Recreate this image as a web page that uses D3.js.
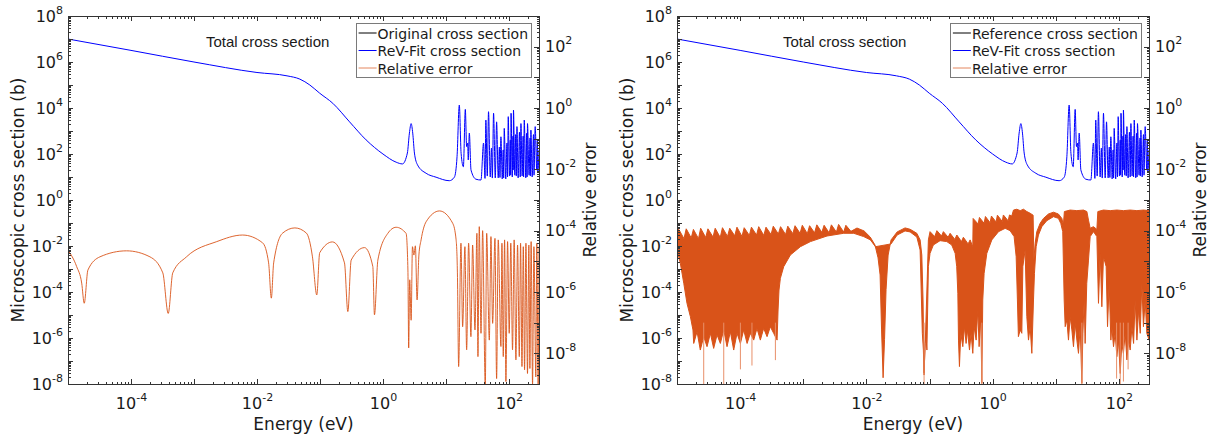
<!DOCTYPE html>
<html>
<head>
<meta charset="utf-8">
<script src="https://cdn.jsdelivr.net/npm/d3@7"></script>
<style>
  body { margin: 0; background: #fff; }
  svg { display: block; }
  text { font-family: "DejaVu Sans", sans-serif; fill: #1a1a1a; }
</style>
</head>
<body>
<script>
// tick labels
var energyTicks = [1e-4, 1e-2, 1, 1e2];
var sigmaTicks = [1e-8, 1e-6, 1e-4, 1e-2, 1, 1e2, 1e4, 1e6, 1e8];
var errorTicks = [1e-8, 1e-6, 1e-4, 1e-2, 1, 1e2];
var legendLeft = ["Original cross section", "ReV-Fit cross section", "Relative error"];
var legendRight = ["Reference cross section", "ReV-Fit cross section", "Relative error"];

// total cross section [energy eV, barns] (same in both panels)
var fitXS = [
  [1e-5, 1.0e7], [1e-4, 3.2e6], [1e-3, 1.0e6], [1e-2, 3.5e5], [3.0e-2, 2.5e5], [4.8e-2, 1.8e5],
  [6.9e-2, 1.0e5], [9.9e-2, 4.4e4], [0.16, 1.6e4], [0.295, 2.5e3], [0.54, 410], [1.0, 100],
  [1.62, 44], [2.04, 37], [2.44, 110], [2.63, 810], [2.80, 2100], [2.97, 810], [3.16, 110],
  [3.55, 33], [4.84, 14.5], [6.97, 9.8], [11.3, 6.9], [13.6, 9.8], [15.0, 76], [16.3, 1.35e4],
  [17.4, 107], [18.9, 28], [20.3, 8.7e3], [21.3, 210], [22.1, 300], [22.6, 55], [23.5, 810],
  [25.0, 20], [30.0, 8], [36, 7.4], [39.5, 300], [41.7, 8.7], [43, 3000], [45.3, 11],
  [47.4, 6900], [50.5, 10], [52.8, 180], [54.5, 9], [57, 5900], [60.7, 9.1], [63.7, 2500],
  [67.6, 9.1], [70.5, 200], [72, 9.5], [74.6, 560], [78.3, 8.2], [81, 150], [82.5, 9],
  [84.2, 1300], [89, 8.2], [93, 300], [95, 10], [97.5, 4200], [102, 11], [105, 400], [106.5, 12],
  [108, 5900], [113, 10], [116, 600], [117, 20], [118, 8100], [124, 12], [128, 700], [131, 11],
  [134, 1550], [140, 9.1], [147, 900], [151, 10], [155, 2100], [162, 11], [168, 600], [171, 10],
  [175, 3000], [185, 9.1], [191, 800], [194, 10], [197, 2100], [209, 12], [216, 500], [219, 11],
  [223, 1100], [234, 10], [245, 700], [250, 12], [261, 1550], [276, 20], [283, 400], [287, 15],
  [300, 150]
];

// relative error, left panel [energy, error]
var errLeft = [
  [1e-5, 2.3e-5], [1.37e-5, 6.8e-6], [1.65e-5, 1.95e-6], [1.81e-5, 4.3e-7], [2.07e-5, 5.2e-6],
  [3.21e-5, 1.4e-5], [8.5e-5, 2.2e-5], [2.0e-4, 1.4e-5], [3.2e-4, 4.2e-6], [3.9e-4, 2.0e-7],
  [4.6e-4, 4.2e-6], [7.6e-4, 1.4e-5], [2.3e-3, 4.4e-5], [5.9e-3, 7.2e-5], [1.23e-2, 4.0e-5],
  [1.53e-2, 8.9e-6], [1.69e-2, 6.3e-7], [1.84e-2, 8.9e-6], [2.55e-2, 8.3e-5], [4.0e-2, 1.23e-4],
  [6.1e-2, 8.3e-5], [7.6e-2, 1.4e-5], [8.9e-2, 8.0e-7], [9.9e-2, 1.9e-5], [0.158, 4.3e-5],
  [0.245, 8.9e-6], [0.277, 2.3e-7], [0.313, 1.1e-5], [0.51, 2.8e-5], [0.69, 6.8e-6],
  [0.733, 1.8e-7], [0.83, 1.1e-5], [1.19, 8.1e-5], [1.62, 1.29e-4], [2.33, 8.1e-5],
  [2.49, 5.2e-6], [2.56, 1.5e-8], [2.66, 2.5e-6], [2.80, 1.2e-7], [2.94, 3.0e-5], [3.10, 1.6e-5],
  [3.27, 3.2e-5], [3.48, 5.5e-7], [3.72, 1.6e-5], [4.03, 5.0e-5], [4.84, 1.95e-4], [7.9, 4.4e-4],
  [12.8, 1.74e-4], [14.5, 5.0e-5], [15.2, 4.2e-6], [15.9, 3.7e-9],
  [17.3, 3.9e-5], [18.4, 7.4e-8], [20.0, 3.0e-5], [21.3, 1.3e-8], [22.9, 3.9e-5], [24.9, 3.5e-8],
  [26.5, 3.4e-5], [28.9, 5.8e-8], [31.0, 8.2e-5], [32.2, 7.8e-9], [33.8, 1.35e-4], [36.0, 4.5e-8],
  [38.2, 1.0e-4], [42.1, 8e-10], [44.3, 8.2e-5], [48.8, 2.7e-8], [51.8, 6.4e-5], [55.1, 9.5e-8],
  [60.0, 5.6e-5], [63.7, 1.5e-9], [67.6, 5.0e-5], [74.6, 1.67e-8], [77.4, 3.9e-5], [81.3, 7.8e-9],
  [85.3, 5.0e-5], [89.5, 1.2e-9], [95.1, 4.4e-5], [101, 4.5e-8], [107, 3.9e-5], [114, 1.3e-8],
  [121, 5.0e-5], [129, 6.1e-9], [137, 3.4e-5], [146, 7.8e-9], [153, 3.9e-5], [161, 3.7e-9],
  [169, 3.0e-5], [177, 2.9e-9], [186, 3.9e-5], [197, 2.2e-9], [207, 3.4e-5], [215, 3.2e-9],
  [225, 4.4e-5], [237, 1.0e-9], [249, 3.0e-5], [267, 1.7e-9], [277, 3.9e-5], [291, 8e-10],
  [300, 3.0e-5]
];

// relative error, right panel: upper edge of the dense band
var errRightUpper = [
  [1.0e-5, 1.0e-4],
  [1.07e-5, 1.1e-4], [1.29e-5, 5.5e-5], [1.40e-5, 1.15e-4], [1.68e-5, 5.8e-5],
  [1.82e-5, 1.1e-4], [2.19e-5, 5.5e-5], [2.37e-5, 1.2e-4], [2.85e-5, 6.0e-5],
  [3.09e-5, 1.15e-4], [3.72e-5, 6.2e-5], [4.03e-5, 1.2e-4], [4.84e-5, 6.0e-5],
  [5.25e-5, 1.25e-4], [6.31e-5, 6.5e-5], [6.84e-5, 1.2e-4], [8.22e-5, 6.8e-5],
  [8.91e-5, 1.3e-4], [1.07e-4, 6.5e-5], [1.16e-4, 1.25e-4], [1.40e-4, 7.0e-5],
  [1.51e-4, 1.3e-4], [1.82e-4, 7.2e-5], [1.97e-4, 1.35e-4], [2.37e-4, 7.0e-5],
  [2.57e-4, 1.3e-4], [3.09e-4, 7.5e-5], [3.35e-4, 1.4e-4], [4.03e-4, 7.8e-5],
  [4.37e-4, 1.35e-4], [5.25e-4, 7.5e-5], [5.69e-4, 1.4e-4], [6.84e-4, 8.0e-5],
  [7.41e-4, 1.45e-4], [8.91e-4, 8.2e-5], [9.66e-4, 1.5e-4], [1.16e-3, 8.0e-5],
  [1.26e-3, 1.45e-4], [1.51e-3, 8.5e-5], [1.64e-3, 1.55e-4], [1.97e-3, 8.8e-5],
  [2.14e-3, 1.5e-4], [2.57e-3, 8.5e-5], [2.79e-3, 1.55e-4], [3.35e-3, 9.0e-5],
  [3.63e-3, 1.6e-4], [4.37e-3, 9.0e-5], [4.73e-3, 1.5e-4], [5.69e-3, 9.5e-5],
  [7.1e-3, 1.22e-4], [9.2e-3, 9.8e-5], [1.15e-2, 6.2e-5], [1.37e-2, 3.4e-5], [1.53e-2, 1.3e-5],
  [1.65e-2, 3.6e-6], [1.74e-2, 5.8e-8], [1.84e-2, 1.6e-9], [1.94e-2, 2.8e-8], [2.05e-2, 1.2e-6],
  [2.21e-2, 1.6e-5], [2.46e-2, 5.0e-5], [3.07e-2, 9.1e-5], [4.10e-2, 1.23e-4], [4.93e-2, 1.11e-4],
  [6.3e-2, 8.2e-5], [7.1e-2, 5.0e-5], [7.55e-2, 1.6e-5], [7.9e-2, 5.5e-7], [8.2e-2, 2.3e-9],
  [8.7e-2, 5.8e-8], [9.2e-2, 2.5e-6], [9.6e-2, 5.0e-5],
  [0.102, 9.3e-5], [0.121, 6.4e-5], [0.131, 1.0e-4], [0.155, 6.7e-5], [0.166, 9.3e-5],
  [0.197, 6.1e-5], [0.212, 8.2e-5], [0.252, 5.2e-5], [0.271, 7.2e-5], [0.321, 4.4e-5],
  [0.344, 6.1e-5], [0.409, 3.7e-5], [0.440, 5.0e-5], [0.485, 3.0e-5],
  [0.491, 2.5e-4], [0.589, 1.65e-4], [0.618, 2.7e-4], [0.733, 1.74e-4], [0.769, 2.9e-4],
  [0.912, 1.82e-4], [0.957, 3.0e-4], [1.135, 1.92e-4], [1.19, 3.2e-4], [1.42, 2.0e-4],
  [1.48, 3.25e-4], [1.76, 2.1e-4], [1.85, 3.25e-4],
  [2.01, 3.0e-4], [2.14, 4.7e-4], [2.42, 5.0e-4], [2.73, 4.5e-4], [3.08, 5.0e-4], [3.48, 4.2e-4],
  [3.93, 3.7e-4], [4.38, 3.2e-4],
  [4.50, 1.1e-5], [4.72, 3.9e-5], [5.01, 9.3e-5], [5.66, 1.74e-4], [6.38, 2.5e-4], [7.66, 3.5e-4],
  [9.2, 4.0e-4], [11.0, 3.5e-4], [12.5, 2.5e-4], [13.2, 1.53e-4],
  [13.7, 4.2e-4], [16.9, 4.7e-4], [21.6, 4.5e-4], [27.5, 4.7e-4], [31.1, 4.2e-4], [33.0, 2.2e-4],
  [35.1, 1.2e-4], [39.5, 1.35e-4], [44.8, 1.1e-4], [46.4, 4.2e-4], [57.0, 4.7e-4], [72.8, 4.5e-4],
  [92.9, 4.7e-4], [118, 4.5e-4], [151, 4.7e-4], [193, 4.5e-4], [245, 4.7e-4], [302, 4.5e-4]
];

// relative error, right panel: lower edge of the dense band
var errRightLower = [
  [1.0e-5, 2.34e-5], [1.13e-5, 8.6e-6], [1.28e-5, 1.92e-6], [1.44e-5, 4.27e-7], [1.63e-5, 1.57e-7],
  [1.79e-5, 5.8e-8], [1.84e-5, 2.1e-8], [2.08e-5, 5.1e-8], [2.34e-5, 1.28e-8], [2.65e-5, 3.5e-8],
  [2.99e-5, 1.65e-8], [3.38e-5, 4.5e-8], [3.81e-5, 1.45e-8], [4.31e-5, 4.0e-8], [4.86e-5, 2.1e-8],
  [5.50e-5, 5.8e-8], [6.20e-5, 1.65e-8], [7.00e-5, 5.1e-8], [7.91e-5, 1.28e-8], [8.93e-5, 4.5e-8],
  [1.01e-4, 2.1e-8], [1.14e-4, 5.8e-8], [1.29e-4, 2.1e-8], [1.45e-4, 4.5e-8], [1.64e-4, 2.7e-8],
  [1.85e-4, 6.5e-8], [2.09e-4, 2.7e-8], [2.36e-4, 6.5e-8], [2.67e-4, 3.5e-8], [3.01e-4, 7.4e-8],
  [3.40e-4, 4.5e-8], [3.85e-4, 2.7e-8],
  [3.99e-4, 2.59e-7], [4.13e-4, 1.16e-6], [4.34e-4, 2.79e-6], [4.90e-4, 6.7e-6], [6.25e-4, 1.61e-5],
  [9.0e-4, 3.0e-5], [1.30e-3, 4.4e-5], [2.38e-3, 6.7e-5], [4.38e-3, 8.2e-5], [6.31e-3, 8.2e-5],
  [9.08e-3, 6.4e-5], [1.16e-2, 5.0e-5], [1.39e-2, 3.0e-5],
  [2.46e-2, 3.7e-5], [3.07e-2, 7.2e-5], [4.10e-2, 9.8e-5], [4.93e-2, 9.1e-5], [6.3e-2, 6.2e-5],
  [7.1e-2, 2.34e-5],
  [7.7e-2, 4.5e-8], [8.0e-2, 1.28e-8], [8.2e-2, 1.96e-9], [8.5e-2, 2.1e-8], [8.8e-2, 3.5e-8],
  [9.1e-2, 1.28e-8], [9.4e-2, 5.5e-7], [9.6e-2, 6.7e-6], [0.102, 1.82e-5], [0.115, 3.41e-5],
  [0.147, 4.72e-5], [0.188, 4.4e-5], [0.225, 3.41e-5], [0.255, 1.82e-5], [0.270, 6.7e-6],
  [0.281, 9.1e-7],
  [0.288, 2.7e-8], [0.298, 3.7e-9], [0.313, 4.5e-8], [0.337, 1.65e-8], [0.358, 7.4e-8],
  [0.380, 2.1e-8], [0.399, 5.8e-8], [0.430, 1.28e-8], [0.456, 4.5e-8], [0.485, 1.0e-8],
  [0.509, 7.4e-8], [0.548, 2.7e-8], [0.582, 2.59e-7], [0.611, 1.65e-8], [0.650, 1.57e-7],
  [0.674, 1.05e-9], [0.698, 5.5e-7], [0.733, 4.06e-6], [0.809, 1.82e-5], [0.971, 5.0e-5],
  [1.24, 9.3e-5], [1.58, 1.19e-4], [1.89, 1.0e-4], [2.19, 6.4e-5], [2.36, 1.42e-5], [2.47, 5.5e-7],
  [2.56, 3.5e-8], [2.73, 5.8e-8], [2.90, 4.5e-8], [3.01, 6.7e-6], [3.27, 2.34e-5], [3.48, 1.57e-7],
  [3.70, 2.7e-8], [3.93, 7.4e-8], [4.18, 1.0e-8], [4.44, 5.5e-7], [4.60, 4.06e-6], [4.89, 3.0e-5],
  [5.32, 7.2e-5], [6.01, 1.35e-4], [7.21, 2.12e-4], [9.20, 2.86e-4], [11.0, 2.52e-4],
  [12.0, 1.73e-4], [12.9, 9.3e-5], [13.6, 5.5e-7],
  [14.1, 7.4e-8], [15.0, 1.22e-7], [15.9, 2.7e-8], [16.9, 1.57e-7], [18.0, 5.8e-8], [19.1, 1.65e-8],
  [20.3, 9.5e-8], [21.6, 2.7e-8], [22.9, 1.0e-8], [24.4, 7.4e-8], [25.9, 1.05e-9], [26.9, 4.5e-8],
  [28.2, 5.5e-7], [29.2, 2.1e-8], [31.0, 1.92e-6], [33.0, 1.1e-5], [35.1, 6.4e-5], [39.6, 9.3e-5],
  [44.8, 6.4e-5], [47.5, 4.27e-7], [50.6, 1.82e-5], [53.7, 3.3e-7], [57.0, 1.42e-5], [62.9, 6.7e-6],
  [66.1, 7.4e-8], [70.2, 1.92e-6], [74.6, 2.7e-8], [77.3, 7.4e-8], [82.2, 1.65e-8], [87.3, 4.5e-8],
  [92.9, 7.8e-9], [98.6, 2.7e-8], [105, 2.2e-9], [111, 2.1e-8], [118, 1.0e-8], [126, 4.5e-8],
  [134, 6.1e-9], [142, 2.7e-8], [151, 1.28e-8], [161, 7.4e-8], [171, 2.1e-8], [181, 5.5e-7],
  [193, 2.7e-8], [205, 2.59e-7], [218, 4.5e-8], [231, 1.92e-6], [245, 7.4e-8], [261, 5.5e-7],
  [277, 4.5e-8], [302, 2.7e-8]
];

// deepest single dips in the right panel [energy, lowest error]
var errRightSpikes = [
  [2.65e-5, 1.0e-9], [5.5e-5, 1.0e-9], [1.01e-4, 3.0e-9], [1.54e-4, 4.0e-9], [3.62e-4, 6.0e-9],
  [8.2e-2, 1.0e-9], [0.674, 1.0e-9], [25.9, 1.0e-9], [92, 1.5e-9], [105, 1.0e-9], [118, 1.2e-9],
  [140, 3.0e-9]
];

var width = 1218, height = 437,
  plotTop = 16, plotBottom = 384;

var orange = "#D95319", blue = "#0000ff";

var svg = d3.select("body").append("svg").attr("width", width).attr("height", height);

var panels = [
  { x0: 68, x1: 539, legend: legendLeft, titleX: 206, mode: "line" },
  { x0: 677, x1: 1149, legend: legendRight, titleX: 783, mode: "band" }
];

function logTicks(lo, hi) {
  var out = [];
  for (var e = lo; e <= hi; e++) {
    for (var k = 2; k < 10; k++) out.push(k * Math.pow(10, e));
  }
  return out;
}
function decades(lo, hi) {
  var out = [];
  for (var e = lo; e <= hi; e++) out.push(Math.pow(10, e));
  return out;
}

// replace tick text with 10 + superscript exponent
function powerLabels(sel) {
  sel.selectAll(".tick text").each(function (d) {
    var t = d3.select(this);
    var e = Math.round(Math.log10(d));
    t.text(null);
    t.append("tspan").text("10");
    t.append("tspan").attr("dy", "-8px").style("font-size", "11px").text(String(e));
  });
}

panels.forEach(function (p, i) {
  var x = d3.scaleLog().domain([1e-5, 300]).range([p.x0, p.x1]);
  var yL = d3.scaleLog().domain([1e-8, 1e8]).range([plotBottom, plotTop]);
  var yR = d3.scaleLog().domain([1e-9, 1e3]).range([plotBottom, plotTop]);

  var g = svg.append("g");
  g.append("clipPath").attr("id", "clip" + i)
    .append("rect").attr("x", p.x0).attr("y", plotTop)
    .attr("width", p.x1 - p.x0).attr("height", plotBottom - plotTop);
  var plot = g.append("g").attr("clip-path", "url(#clip" + i + ")");

  var errLine = d3.line().x(function (d) { return x(d[0]); }).y(function (d) { return yR(d[1]); });

  if (p.mode === "line") {
    plot.append("path").datum(errLeft)
      .attr("d", errLine.curve(d3.curveMonotoneX))
      .attr("fill", "none").attr("stroke", orange).attr("stroke-width", 0.9);
  } else {
    var band = errRightUpper.concat(errRightLower.slice().reverse());
    plot.append("path").datum(band)
      .attr("d", errLine.curve(d3.curveLinearClosed))
      .attr("fill", orange).attr("stroke", orange).attr("stroke-width", 1)
      .attr("stroke-linejoin", "round");
    plot.selectAll(".spike").data(errRightSpikes).enter().append("line")
      .attr("class", "spike")
      .attr("x1", function (d) { return x(d[0]); })
      .attr("x2", function (d) { return x(d[0]); })
      .attr("y1", yR(1e-7))
      .attr("y2", function (d) { return yR(d[1]); })
      .attr("stroke", "#e8906a").attr("stroke-width", 1);
  }

  plot.append("path").datum(fitXS)
    .attr("d", d3.line().curve(d3.curveMonotoneX)
      .x(function (d) { return x(d[0]); }).y(function (d) { return yL(d[1]); }))
    .attr("fill", "none").attr("stroke", blue).attr("stroke-width", 1);

  // axes: minor ticks, decade ticks, labels
  var axes = g.append("g").style("color", "#333").attr("shape-rendering", "crispEdges");

  function addAxis(axis, tf) {
    var a = axes.append("g").attr("transform", tf).call(axis);
    a.select(".domain").remove();
    return a;
  }
  var minorX = logTicks(-5, 2).filter(function (v) { return v <= 300; });
  var minorL = logTicks(-8, 7);
  var minorR = logTicks(-9, 2);

  addAxis(d3.axisBottom(x).tickValues(minorX).tickSize(-2.5).tickFormat(""), "translate(0," + plotBottom + ")");
  addAxis(d3.axisTop(x).tickValues(minorX).tickSize(-2.5).tickFormat(""), "translate(0," + plotTop + ")");
  addAxis(d3.axisBottom(x).tickValues(decades(-5, 2)).tickSize(-5).tickFormat(""), "translate(0," + plotBottom + ")");
  addAxis(d3.axisTop(x).tickValues(decades(-5, 2)).tickSize(-5).tickFormat(""), "translate(0," + plotTop + ")");
  addAxis(d3.axisLeft(yL).tickValues(minorL).tickSize(-2.5).tickFormat(""), "translate(" + p.x0 + ",0)");
  addAxis(d3.axisLeft(yL).tickValues(decades(-8, 8)).tickSize(-5).tickFormat(""), "translate(" + p.x0 + ",0)");
  addAxis(d3.axisRight(yR).tickValues(minorR).tickSize(-2.5).tickFormat(""), "translate(" + p.x1 + ",0)");
  addAxis(d3.axisRight(yR).tickValues(decades(-9, 3)).tickSize(-5).tickFormat(""), "translate(" + p.x1 + ",0)");

  var xl = addAxis(d3.axisBottom(x).tickValues(energyTicks).tickSize(0).tickPadding(14), "translate(0," + plotBottom + ")");
  var ll = addAxis(d3.axisLeft(yL).tickValues(sigmaTicks).tickSize(0).tickPadding(5), "translate(" + p.x0 + ",0)");
  var rl = addAxis(d3.axisRight(yR).tickValues(errorTicks).tickSize(0).tickPadding(6), "translate(" + p.x1 + ",0)");
  [xl, ll, rl].forEach(function (a) {
    a.attr("font-family", null).attr("font-size", null);
    a.selectAll("text").style("font-size", "16px").attr("fill", "#1a1a1a");
    powerLabels(a);
  });

  g.append("rect")
    .attr("x", p.x0).attr("y", plotTop).attr("width", p.x1 - p.x0).attr("height", plotBottom - plotTop)
    .attr("fill", "none").attr("stroke", "#333").attr("stroke-width", 1)
    .attr("shape-rendering", "crispEdges");

  // axis titles
  g.append("text")
    .attr("transform", "translate(" + (p.x0 - 44) + "," + ((plotTop + plotBottom) / 2) + ") rotate(-90)")
    .attr("text-anchor", "middle").style("font-size", "17px")
    .text("Microscopic cross section (b)");
  g.append("text")
    .attr("transform", "translate(" + (p.x1 + 57) + "," + ((plotTop + plotBottom) / 2) + ") rotate(-90)")
    .attr("text-anchor", "middle").style("font-size", "17px")
    .text("Relative error");
  g.append("text")
    .attr("x", (p.x0 + p.x1) / 2).attr("y", 430)
    .attr("text-anchor", "middle").style("font-size", "17px")
    .text("Energy (eV)");

  g.append("text")
    .attr("x", p.titleX).attr("y", 46.5)
    .style("font-family", "'Liberation Sans', Arial, sans-serif").style("font-size", "15px")
    .text("Total cross section");

  // legend
  var legend = g.append("g");
  var box = legend.append("rect");
  var colors = ["#000000", blue, orange];
  var maxW = 0;
  p.legend.forEach(function (name, j) {
    var t = legend.append("text").attr("y", 33 + j * 17.5 + 5.5).style("font-size", "14px").text(name);
    maxW = Math.max(maxW, t.node().getComputedTextLength());
  });
  var bw = 21 + maxW + 3, bx = p.x1 - 8 - bw;
  box.attr("x", bx).attr("y", 23).attr("width", bw).attr("height", 54)
    .attr("fill", "#fff").attr("stroke", "#7a7a7a").attr("stroke-width", 1)
    .attr("shape-rendering", "crispEdges");
  legend.selectAll("text").attr("x", bx + 21);
  p.legend.forEach(function (name, j) {
    legend.append("line")
      .attr("x1", bx + 2).attr("x2", bx + 20)
      .attr("y1", 33 + j * 17.5).attr("y2", 33 + j * 17.5)
      .attr("stroke", colors[j]).attr("stroke-width", 1)
      .attr("stroke-opacity", j === 2 ? 0.7 : 1);
  });
});
</script>
</body>
</html>
